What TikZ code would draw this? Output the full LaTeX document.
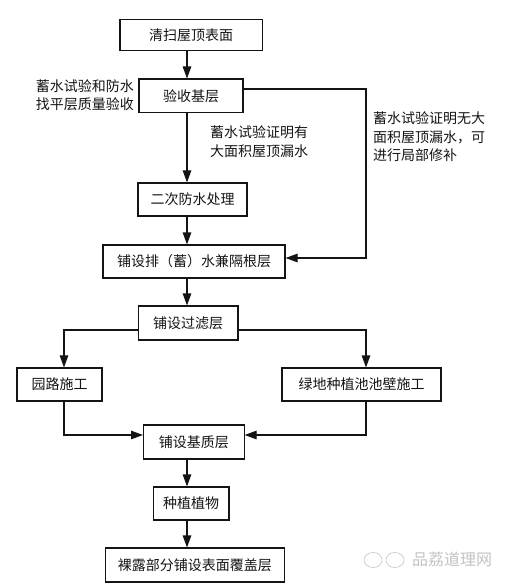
\documentclass[tikz,border=0pt]{standalone}
\usepackage{fontspec}
\setmainfont{Noto Sans CJK SC}
\usetikzlibrary{arrows.meta}
\definecolor{FlowInk}{RGB}{20,20,20}
\definecolor{MarkGray}{RGB}{195,195,195}

\begin{document}
\begin{tikzpicture}[x=1pt, y=-1pt,
      stepbox/.style={rectangle, draw=FlowInk, line width=1.1pt, inner sep=0pt,
                  align=center, text=FlowInk, font=\fontsize{14}{18.5}\selectfont},
      note/.style={align=left, inner sep=0pt, text=FlowInk, font=\fontsize{14}{18.5}\selectfont},
      flow/.style={draw=FlowInk, line width=1.1pt, -{Triangle[length=12pt, width=8.5pt]}},
      sitemark/.style={inner sep=0pt, text=MarkGray, font=\fontsize{16}{18}\selectfont}
    ]
    \useasboundingbox (0,0) rectangle (512,585);

    % Boxes
    \node[stepbox, minimum width=142.5pt, minimum height=31.5pt] (clean) at (191.2,35.2) {清扫屋顶表面};
    \node[stepbox, minimum width=104pt, minimum height=33.5pt] (base) at (191,95.8) {验收基层};
    \node[stepbox, minimum width=109pt, minimum height=33pt] (second) at (192.5,199.5) {二次防水处理};
    \node[stepbox, minimum width=182pt, minimum height=33pt] (drain) at (194,261.5) {铺设排（蓄）水兼隔根层};
    \node[stepbox, minimum width=99.5pt, minimum height=34pt] (filter) at (188.2,323) {铺设过滤层};
    \node[stepbox, minimum width=85pt, minimum height=33pt] (road) at (59.5,384.5) {园路施工};
    \node[stepbox, minimum width=159pt, minimum height=33pt] (wall) at (361.5,384.5) {绿地种植池池壁施工};
    \node[stepbox, minimum width=100.5pt, minimum height=34pt] (soil) at (193.8,442) {铺设基质层};
    \node[stepbox, minimum width=75.5pt, minimum height=33pt] (plant) at (191.2,503.5) {种植植物};
    \node[stepbox, minimum width=178.5pt, minimum height=34pt] (cover) at (194.8,565) {裸露部分铺设表面覆盖层};

    % Notes
    \node[note, anchor=east] (noteleft) at (134,95) {蓄水试验和防水\\找平层质量验收};
    \node[note, anchor=west] (notemid) at (210,141.5) {蓄水试验证明有\\大面积屋顶漏水};
    \node[note, anchor=west] (noteright) at (373,137) {蓄水试验证明无大\\面积屋顶漏水，可\\进行局部修补};

    % Helper coordinates
    \coordinate (spine) at (187,0);
    \coordinate (leftx) at (64,0);
    \coordinate (rightx) at (366,0);
    \coordinate (turntop) at (366,89);
    \coordinate (turndrain) at (366,258);
    \coordinate (turnsoil) at (366,435);
    \coordinate (turnroad) at (64,435);
    \coordinate (filterrow) at (0,330);

    % Arrows
    \draw[flow] (clean.south -| spine) -- (base.north -| spine);
    \draw[flow] (base.south -| spine) -- (second.north -| spine);
    \draw[flow] (second.south -| spine) -- (drain.north -| spine);
    \draw[flow] (drain.south -| spine) -- (filter.north -| spine);
    \draw[flow] (soil.south -| spine) -- (plant.north -| spine);
    \draw[flow] (plant.south -| spine) -- (cover.north -| spine);

    \draw[flow] (base.east |- turntop) -- (turntop) -- (turndrain) -- (drain.east |- turndrain);
    \draw[flow] (filter.west |- filterrow) -| (road.north -| leftx);
    \draw[flow] (filter.east |- filterrow) -| (wall.north -| rightx);
    \draw[flow] (road.south -| leftx) -- (turnroad) -- (soil.west |- turnroad);
    \draw[flow] (wall.south -| rightx) -- (turnsoil) -- (soil.east |- turnsoil);

    % Watermark
    \draw[MarkGray, line width=0.6pt] (373,560) ellipse (9pt and 7.5pt);
    \draw[MarkGray, line width=0.6pt] (395,560) ellipse (9pt and 7.5pt);
    \node[sitemark, anchor=west] (site) at (412,559) {品荔道理网};
  \end{tikzpicture}
\end{document}
